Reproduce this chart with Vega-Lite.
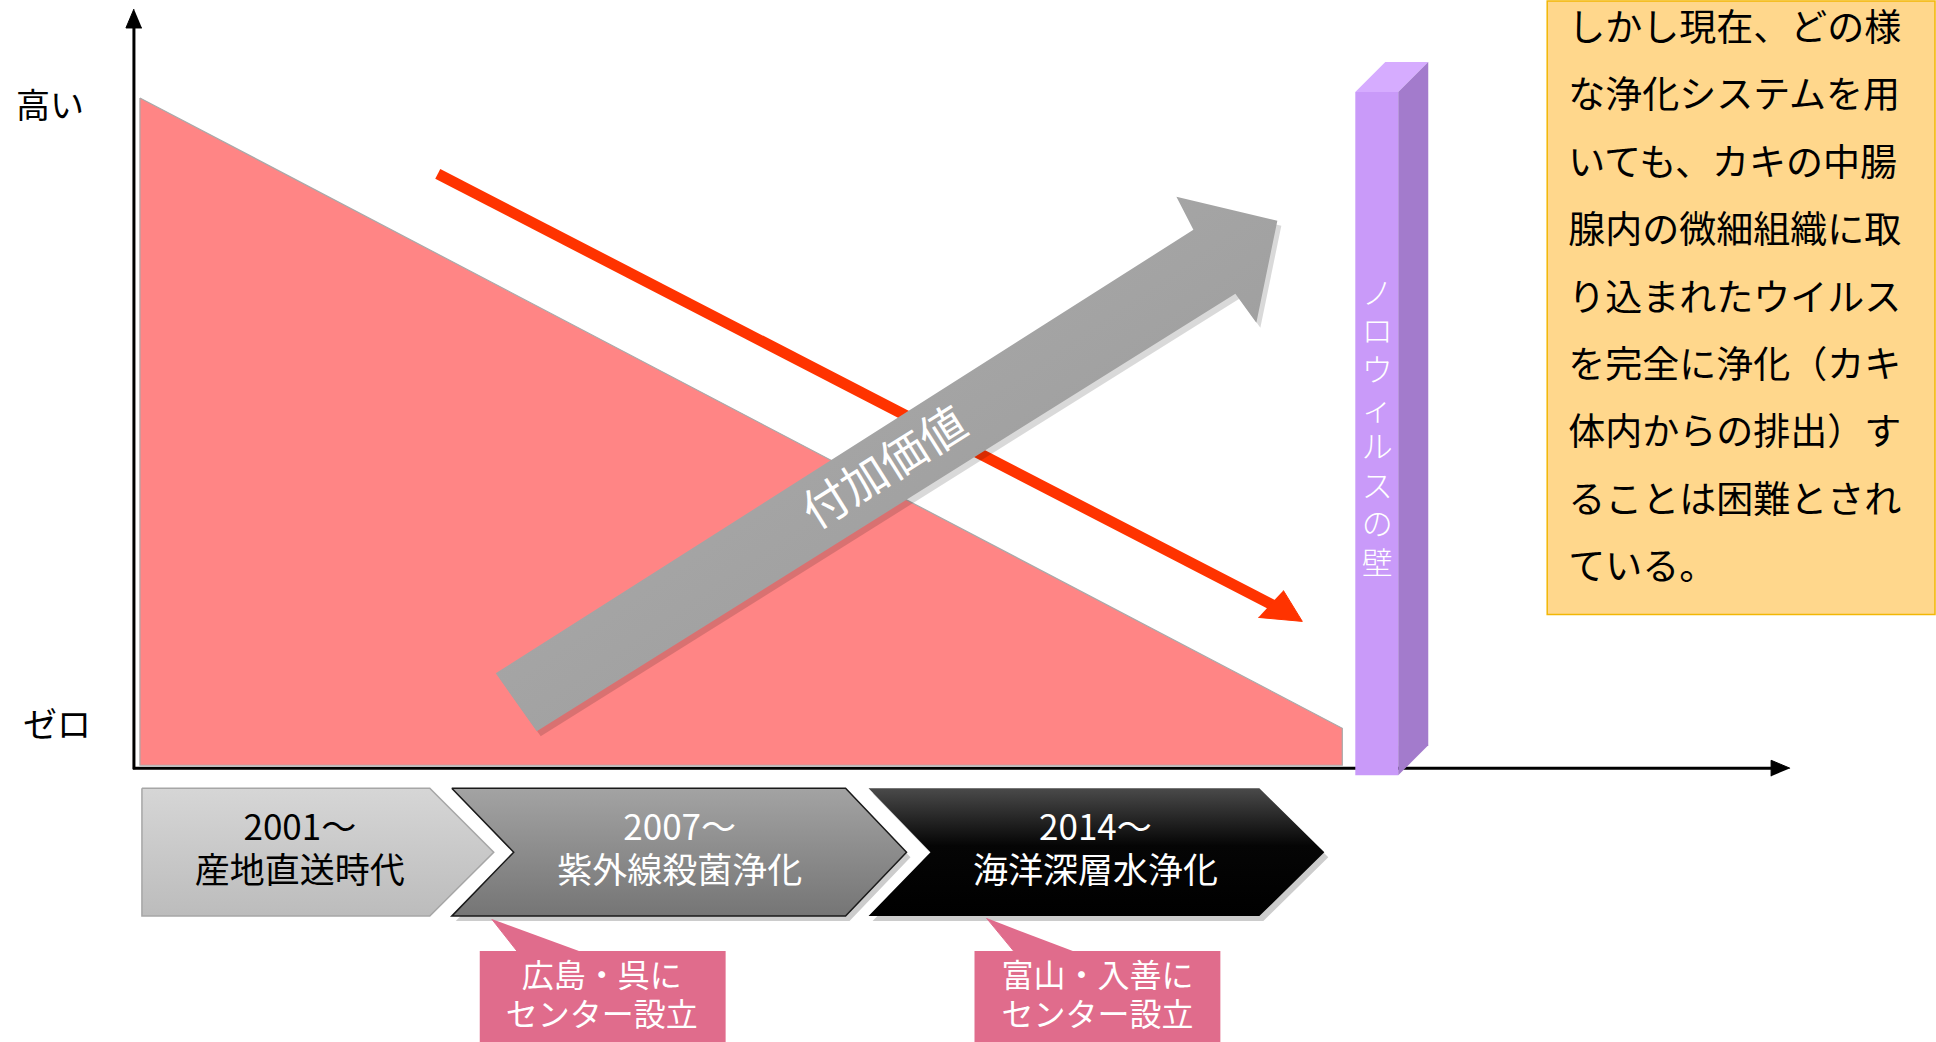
{
  "$schema": "https://vega.github.io/schema/vega-lite/v6.json",
  "width": 1936,
  "height": 1042,
  "autosize": {"type": "fit", "contains": "padding"},
  "padding": 0,
  "background": "white",
  "config": {"font": "Noto Sans CJK JP", "view": {"stroke": null}},
  "datasets": {
    "poly": [
      {"shape": "tri", "i": 0, "x": 140, "y": 97},
      {"shape": "tri", "i": 1, "x": 1343, "y": 728},
      {"shape": "tri", "i": 2, "x": 1343, "y": 765},
      {"shape": "tri", "i": 3, "x": 140, "y": 765},
      {"shape": "tri", "i": 4, "x": 140, "y": 97},
      {"shape": "redhead", "i": 0, "x": 1284, "y": 590},
      {"shape": "redhead", "i": 1, "x": 1303, "y": 621},
      {"shape": "redhead", "i": 2, "x": 1259, "y": 617},
      {"shape": "grayarrow", "i": 0, "x": 496, "y": 673},
      {"shape": "grayarrow", "i": 1, "x": 1194, "y": 229},
      {"shape": "grayarrow", "i": 2, "x": 1177, "y": 196},
      {"shape": "grayarrow", "i": 3, "x": 1278, "y": 220},
      {"shape": "grayarrow", "i": 4, "x": 1257, "y": 322},
      {"shape": "grayarrow", "i": 5, "x": 1236, "y": 293},
      {"shape": "grayarrow", "i": 6, "x": 537, "y": 731},
      {"shape": "grayarrow", "i": 7, "x": 496, "y": 673},
      {"shape": "walltop", "i": 0, "x": 1356, "y": 91},
      {"shape": "walltop", "i": 1, "x": 1386, "y": 61},
      {"shape": "walltop", "i": 2, "x": 1429, "y": 61},
      {"shape": "walltop", "i": 3, "x": 1399, "y": 91},
      {"shape": "wallside", "i": 0, "x": 1399, "y": 91},
      {"shape": "wallside", "i": 1, "x": 1429, "y": 61},
      {"shape": "wallside", "i": 2, "x": 1429, "y": 745},
      {"shape": "wallside", "i": 3, "x": 1399, "y": 775},
      {"shape": "yarrow", "i": 0, "x": 134, "y": 8},
      {"shape": "yarrow", "i": 1, "x": 126, "y": 27},
      {"shape": "yarrow", "i": 2, "x": 142, "y": 27},
      {"shape": "xarrow", "i": 0, "x": 1791, "y": 768},
      {"shape": "xarrow", "i": 1, "x": 1772, "y": 760},
      {"shape": "xarrow", "i": 2, "x": 1772, "y": 776},
      {"shape": "chev1", "i": 0, "x": 142, "y": 788},
      {"shape": "chev1", "i": 1, "x": 430, "y": 788},
      {"shape": "chev1", "i": 2, "x": 494, "y": 852},
      {"shape": "chev1", "i": 3, "x": 430, "y": 916},
      {"shape": "chev1", "i": 4, "x": 142, "y": 916},
      {"shape": "chev1", "i": 5, "x": 142, "y": 788},
      {"shape": "chev2", "i": 0, "x": 452, "y": 788},
      {"shape": "chev2", "i": 1, "x": 846, "y": 788},
      {"shape": "chev2", "i": 2, "x": 907, "y": 852},
      {"shape": "chev2", "i": 3, "x": 846, "y": 916},
      {"shape": "chev2", "i": 4, "x": 452, "y": 916},
      {"shape": "chev2", "i": 5, "x": 514, "y": 852},
      {"shape": "chev2", "i": 6, "x": 452, "y": 788},
      {"shape": "chev3", "i": 0, "x": 869, "y": 788},
      {"shape": "chev3", "i": 1, "x": 1260, "y": 788},
      {"shape": "chev3", "i": 2, "x": 1325, "y": 852},
      {"shape": "chev3", "i": 3, "x": 1260, "y": 916},
      {"shape": "chev3", "i": 4, "x": 869, "y": 916},
      {"shape": "chev3", "i": 5, "x": 931, "y": 852},
      {"shape": "chev3", "i": 6, "x": 869, "y": 788},
      {"shape": "ptr1", "i": 0, "x": 492, "y": 919},
      {"shape": "ptr1", "i": 1, "x": 518, "y": 952},
      {"shape": "ptr1", "i": 2, "x": 582, "y": 952},
      {"shape": "ptr2", "i": 0, "x": 987, "y": 918},
      {"shape": "ptr2", "i": 1, "x": 1015, "y": 952},
      {"shape": "ptr2", "i": 2, "x": 1076, "y": 952}
    ],
    "rects": [
      {"name": "orange", "x": 1548, "x2": 1936, "y": 0, "y2": 614},
      {"name": "wallfront", "x": 1356, "x2": 1399, "y": 91, "y2": 775},
      {"name": "box1", "x": 480, "x2": 726, "y": 951, "y2": 1042},
      {"name": "box2", "x": 975, "x2": 1221, "y": 951, "y2": 1042}
    ],
    "rules": [
      {"name": "red", "x": 438, "y": 173, "x2": 1274, "y2": 605},
      {"name": "yaxis", "x": 134, "y": 24, "x2": 134, "y2": 769},
      {"name": "xaxis", "x": 133, "y": 768, "x2": 1776, "y2": 768}
    ],
    "texts": [
      {"id": "note", "x": 1569, "y": 29, "t": "しかし現在、どの様\nな浄化システムを用\nいても、カキの中腸\n腺内の微細組織に取\nり込まれたウイルス\nを完全に浄化（カキ\n体内からの排出）す\nることは困難とされ\nている。"},
      {"id": "value", "x": 886, "y": 469, "t": "付加価値"},
      {"id": "wall", "x": 1378, "y": 294, "t": "ノ\nロ\nウ\nィ\nル\nス\nの\n壁"},
      {"id": "c1", "x": 300, "y": 829, "t": "2001～\n産地直送時代"},
      {"id": "c2", "x": 680, "y": 829, "t": "2007～\n紫外線殺菌浄化"},
      {"id": "c3", "x": 1096, "y": 829, "t": "2014～\n海洋深層水浄化"},
      {"id": "b1", "x": 602, "y": 977, "t": "広島・呉に\nセンター設立"},
      {"id": "b2", "x": 1098, "y": 977, "t": "富山・入善に\nセンター設立"},
      {"id": "high", "x": 50, "y": 107, "t": "高い"},
      {"id": "zero", "x": 57, "y": 727, "t": "ゼロ"}
    ]
  },
  "encoding": {
    "x": {"field": "x", "type": "quantitative", "scale": {"domain": [0, 1936], "nice": false, "zero": false}, "axis": null},
    "y": {"field": "y", "type": "quantitative", "scale": {"domain": [0, 1042], "nice": false, "zero": false, "reverse": true}, "axis": null}
  },
  "layer": [
    {
      "data": {"name": "rects"},
      "transform": [{"filter": "datum.name === 'orange'"}],
      "mark": {"type": "rect", "fill": "#FFD78C", "stroke": "#F2B705", "strokeWidth": 1.5},
      "encoding": {"x2": {"field": "x2"}, "y2": {"field": "y2"}}
    },
    {
      "data": {"name": "texts"},
      "transform": [{"filter": "datum.id === 'note'"}],
      "mark": {"type": "text", "align": "left", "baseline": "middle", "fontSize": 37, "lineBreak": "\n", "lineHeight": 67.4, "color": "#000000"},
      "encoding": {"text": {"field": "t"}}
    },
    {
      "data": {"name": "poly"},
      "transform": [{"filter": "datum.shape === 'tri'"}],
      "mark": {"type": "line", "fill": "#FF8585", "stroke": "#A9A9A9", "strokeWidth": 1.2},
      "encoding": {"order": {"field": "i", "type": "quantitative"}}
    },
    {
      "data": {"name": "rules"},
      "transform": [{"filter": "datum.name === 'red'"}],
      "mark": {"type": "rule", "color": "#FF3300", "strokeWidth": 11, "strokeCap": "butt"},
      "encoding": {"x2": {"field": "x2"}, "y2": {"field": "y2"}}
    },
    {
      "data": {"name": "poly"},
      "transform": [{"filter": "datum.shape === 'redhead'"}],
      "mark": {"type": "line", "fill": "#FF3300", "stroke": "#FF3300", "strokeWidth": 1},
      "encoding": {"order": {"field": "i", "type": "quantitative"}}
    },
    {
      "data": {"name": "poly"},
      "transform": [{"filter": "datum.shape === 'grayarrow'"}],
      "mark": {"type": "line", "fill": "#000000", "fillOpacity": 0.15, "strokeWidth": 0, "xOffset": 4, "yOffset": 5},
      "encoding": {"order": {"field": "i", "type": "quantitative"}}
    },
    {
      "data": {"name": "poly"},
      "transform": [{"filter": "datum.shape === 'grayarrow'"}],
      "mark": {"type": "line", "strokeWidth": 0, "fill": {"gradient": "linear", "x1": 0, "y1": 0, "x2": 1, "y2": 1, "stops": [{"offset": 0, "color": "#B0B0B0"}, {"offset": 1, "color": "#969696"}]}},
      "encoding": {"order": {"field": "i", "type": "quantitative"}}
    },
    {
      "data": {"name": "texts"},
      "transform": [{"filter": "datum.id === 'value'"}],
      "mark": {"type": "text", "align": "center", "baseline": "middle", "fontSize": 46, "angle": 327.8, "color": "#FFFFFF"},
      "encoding": {"text": {"field": "t"}}
    },
    {
      "data": {"name": "rules"},
      "transform": [{"filter": "datum.name !== 'red'"}],
      "mark": {"type": "rule", "color": "#000000", "strokeWidth": 3},
      "encoding": {"x2": {"field": "x2"}, "y2": {"field": "y2"}}
    },
    {
      "data": {"name": "poly"},
      "transform": [{"filter": "datum.shape === 'yarrow' || datum.shape === 'xarrow'"}],
      "mark": {"type": "line", "fill": "#000000", "stroke": "#000000", "strokeWidth": 1},
      "encoding": {"order": {"field": "i", "type": "quantitative"}, "detail": {"field": "shape"}}
    },
    {
      "data": {"name": "rects"},
      "transform": [{"filter": "datum.name === 'wallfront'"}],
      "mark": {"type": "rect", "fill": "#C99AF9"},
      "encoding": {"x2": {"field": "x2"}, "y2": {"field": "y2"}}
    },
    {
      "data": {"name": "poly"},
      "transform": [{"filter": "datum.shape === 'walltop'"}],
      "mark": {"type": "line", "fill": "#D6ACFF", "strokeWidth": 0},
      "encoding": {"order": {"field": "i", "type": "quantitative"}}
    },
    {
      "data": {"name": "poly"},
      "transform": [{"filter": "datum.shape === 'wallside'"}],
      "mark": {"type": "line", "fill": "#A37BCC", "strokeWidth": 0},
      "encoding": {"order": {"field": "i", "type": "quantitative"}}
    },
    {
      "data": {"name": "texts"},
      "transform": [{"filter": "datum.id === 'wall'"}],
      "mark": {"type": "text", "align": "center", "baseline": "middle", "fontSize": 31, "fontWeight": 300, "lineBreak": "\n", "lineHeight": 38.6, "color": "#FFFFFF"},
      "encoding": {"text": {"field": "t"}}
    },
    {
      "data": {"name": "poly"},
      "transform": [{"filter": "datum.shape === 'chev2' || datum.shape === 'chev3'"}],
      "mark": {"type": "line", "fill": "#000000", "fillOpacity": 0.2, "strokeWidth": 0, "xOffset": 4, "yOffset": 5},
      "encoding": {"order": {"field": "i", "type": "quantitative"}, "detail": {"field": "shape"}}
    },
    {
      "data": {"name": "poly"},
      "transform": [{"filter": "datum.shape === 'chev1'"}],
      "mark": {"type": "line", "stroke": "#A6A6A6", "strokeWidth": 1.5, "fill": {"gradient": "linear", "x1": 0, "y1": 0, "x2": 0, "y2": 1, "stops": [{"offset": 0, "color": "#D6D6D6"}, {"offset": 1, "color": "#BCBCBC"}]}},
      "encoding": {"order": {"field": "i", "type": "quantitative"}}
    },
    {
      "data": {"name": "poly"},
      "transform": [{"filter": "datum.shape === 'chev2'"}],
      "mark": {"type": "line", "stroke": "#1A1A1A", "strokeWidth": 1.5, "fill": {"gradient": "linear", "x1": 0, "y1": 0, "x2": 0, "y2": 1, "stops": [{"offset": 0, "color": "#A3A3A3"}, {"offset": 1, "color": "#757575"}]}},
      "encoding": {"order": {"field": "i", "type": "quantitative"}}
    },
    {
      "data": {"name": "poly"},
      "transform": [{"filter": "datum.shape === 'chev3'"}],
      "mark": {"type": "line", "strokeWidth": 0, "fill": {"gradient": "linear", "x1": 0, "y1": 0, "x2": 0, "y2": 1, "stops": [{"offset": 0, "color": "#4A4A4A"}, {"offset": 0.45, "color": "#050505"}, {"offset": 1, "color": "#000000"}]}},
      "encoding": {"order": {"field": "i", "type": "quantitative"}}
    },
    {
      "data": {"name": "texts"},
      "transform": [{"filter": "datum.id === 'c1'"}],
      "mark": {"type": "text", "align": "center", "baseline": "middle", "fontSize": 35, "lineBreak": "\n", "lineHeight": 43, "color": "#000000"},
      "encoding": {"text": {"field": "t"}}
    },
    {
      "data": {"name": "texts"},
      "transform": [{"filter": "datum.id === 'c2' || datum.id === 'c3'"}],
      "mark": {"type": "text", "align": "center", "baseline": "middle", "fontSize": 35, "lineBreak": "\n", "lineHeight": 43, "color": "#FFFFFF"},
      "encoding": {"text": {"field": "t"}}
    },
    {
      "data": {"name": "poly"},
      "transform": [{"filter": "datum.shape === 'ptr1' || datum.shape === 'ptr2'"}],
      "mark": {"type": "line", "fill": "#E06C8C", "stroke": "#E06C8C", "strokeWidth": 1},
      "encoding": {"order": {"field": "i", "type": "quantitative"}, "detail": {"field": "shape"}}
    },
    {
      "data": {"name": "rects"},
      "transform": [{"filter": "datum.name === 'box1' || datum.name === 'box2'"}],
      "mark": {"type": "rect", "fill": "#E06C8C"},
      "encoding": {"x2": {"field": "x2"}, "y2": {"field": "y2"}}
    },
    {
      "data": {"name": "texts"},
      "transform": [{"filter": "datum.id === 'b1' || datum.id === 'b2'"}],
      "mark": {"type": "text", "align": "center", "baseline": "middle", "fontSize": 32, "lineBreak": "\n", "lineHeight": 39, "color": "#FFFFFF"},
      "encoding": {"text": {"field": "t"}}
    },
    {
      "data": {"name": "texts"},
      "transform": [{"filter": "datum.id === 'high' || datum.id === 'zero'"}],
      "mark": {"type": "text", "align": "center", "baseline": "middle", "fontSize": 34, "color": "#000000"},
      "encoding": {"text": {"field": "t"}}
    }
  ]
}
